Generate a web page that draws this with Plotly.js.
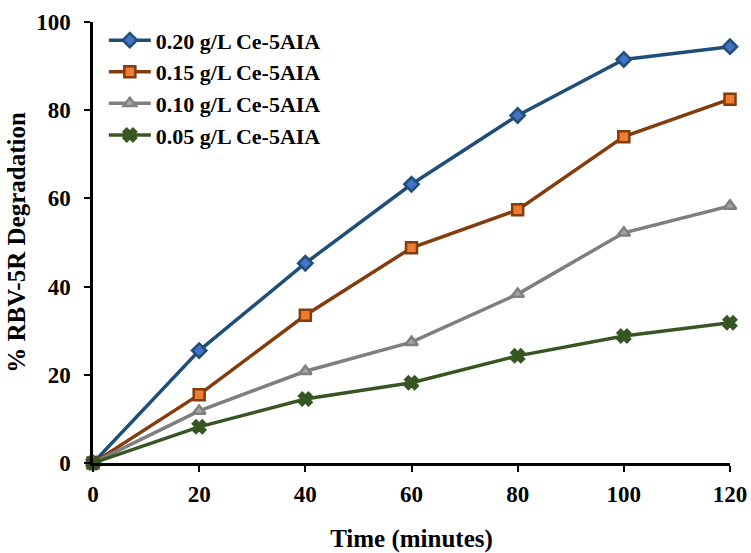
<!DOCTYPE html>
<html>
<head>
<script src="https://cdn.plot.ly/plotly-3.0.1.min.js"></script>
<style>html,body{margin:0;padding:0;background:#fff;}</style>
</head>
<body>
<div id="chart" style="width:751px;height:553px;"></div>
<script>
const time = [0, 20, 40, 60, 80, 100, 120];
const seriesNames = ["0.20 g/L Ce-5AIA", "0.15 g/L Ce-5AIA", "0.10 g/L Ce-5AIA", "0.05 g/L Ce-5AIA"];
const deg020 = [0, 25.5, 45.3, 63.2, 78.8, 91.5, 94.4];
const deg015 = [0, 15.5, 33.5, 48.8, 57.4, 74.0, 82.5];
const deg010 = [0, 11.8, 20.8, 27.4, 38.3, 52.2, 58.3];
const deg005 = [0, 8.2, 14.5, 18.2, 24.3, 28.8, 31.8];
const xTicks = [0, 20, 40, 60, 80, 100, 120];
const yTicks = [0, 20, 40, 60, 80, 100];

const styles = [
  {line: "#1F4E79", fill: "#4472C4", symbol: "diamond", size: 11},
  {line: "#843C0C", fill: "#ED7D31", symbol: "square", size: 11},
  {line: "#7F7F7F", fill: "#A5A5A5", symbol: "triangle-up", size: 11},
  {line: "#375623", fill: "#375623", symbol: "x", size: 11}
];
const ys = [deg020, deg015, deg010, deg005];

const traces = ys.map((y, i) => ({
  x: time, y: y, name: seriesNames[i], type: "scatter", mode: "lines+markers",
  cliponaxis: false,
  line: {color: styles[i].line, width: 3.5},
  marker: {symbol: styles[i].symbol, size: styles[i].size, color: styles[i].fill,
           line: {color: styles[i].line, width: 2.5}}
}));

const font = "Liberation Serif, Times New Roman, serif";
const layout = {
  width: 751, height: 553,
  margin: {l: 93, r: 21, t: 22, b: 90},
  paper_bgcolor: "#fff", plot_bgcolor: "#fff",
  showlegend: true,
  legend: {x: 0.017, y: 1.006, xanchor: "left", yanchor: "top",
           font: {family: font, size: 22, color: "#000", weight: "bold"},
           bgcolor: "rgba(0,0,0,0)", itemwidth: 42},
  xaxis: {range: [0, 120], tickvals: xTicks, ticktext: xTicks.map(String),
          showgrid: false, zeroline: false, showline: true, linecolor: "#000", linewidth: 2.5,
          ticks: "outside", ticklen: 6, tickwidth: 2, tickcolor: "#000", ticklabelstandoff: 3,
          tickfont: {family: font, size: 23, color: "#000", weight: "bold"},
          title: {text: "Time (minutes)", font: {family: font, size: 25, color: "#000", weight: "bold"}, standoff: 28}},
  yaxis: {range: [0, 100], tickvals: yTicks, ticktext: yTicks.map(String),
          showgrid: false, zeroline: false, showline: true, linecolor: "#000", linewidth: 2.5,
          ticks: "outside", ticklen: 6, tickwidth: 2, tickcolor: "#000", ticklabelstandoff: 9,
          tickfont: {family: font, size: 23, color: "#000", weight: "bold"},
          title: {text: "% RBV-5R Degradation", font: {family: font, size: 25, color: "#000", weight: "bold"}, standoff: 4}}
};
Plotly.newPlot("chart", traces, layout, {displayModeBar: false});
</script>
</body>
</html>
